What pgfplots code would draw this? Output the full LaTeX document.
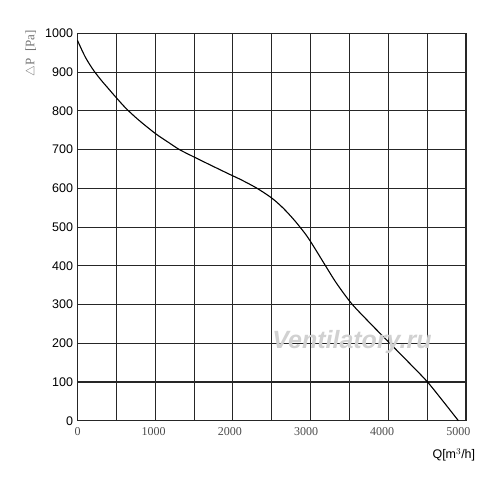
\documentclass[border=0pt]{standalone}
\usepackage{pgfplots}
\pgfplotsset{compat=1.18}
\usepackage{fontspec}
\setmainfont{Liberation Serif}
\setsansfont{Liberation Sans}
\begin{document}
\begin{tikzpicture}[x=1pt,y=1pt]
\path[use as bounding box] (0,0) rectangle (500,490);
\begin{axis}[
  at={(77.5pt,69.3pt)}, anchor=south west,
  scale only axis, width=388.5pt, height=387.2pt,
  xmin=0, xmax=5100, ymin=0, ymax=1000,
  axis line style={line width=1.2pt, black!85},
  xtick={0,1000,2000,3000,4000,5000},
  xticklabels={0,1000,2000,3000,4000,5000},
  ytick={0,100,...,1000},
  ymajorgrids,
  extra x ticks={510,1020,1530,2040,2550,3060,3570,4080,4590},
  extra x tick labels={},
  extra x tick style={grid=major, major tick length=0pt},
  major tick length=0pt,
  grid style={line width=1.1pt, black!85},
  /pgf/number format/assume math mode=true,
  /pgf/number format/1000 sep={},
  xticklabel style={font=\fontsize{12}{12}\selectfont, text=black!70, yshift=-3pt},
  yticklabel style={font=\sffamily\fontsize{12.5}{12.5}\selectfont, xshift=-1pt},
  clip=false,
]
\addplot[black, line width=1.1pt, smooth, tension=0.5] coordinates {
(0,982) (100,940) (200,908) (300,882) (400,859) (510,834) (640,806)
(800,777) (1020,742) (1200,718) (1340,700) (1530,681) (1800,655)
(2000,636) (2150,622) (2350,601) (2550,575) (2700,549) (2850,517)
(3000,480) (3100,450) (3250,402) (3400,355) (3600,302) (3850,250)
(4100,200) (4350,150) (4590,101) (4800,50) (5000,0)
};
\end{axis}
\node[rotate=90, text=black!55, font=\fontsize{13}{13}\selectfont] at (31,437) {$\triangle$P\ \ [Pa]};
\node[font=\sffamily\fontsize{12.5}{12.5}\selectfont, anchor=west] at (429,35) {Q[m$^3$/h]};
\node[text=black!18, font=\sffamily\bfseries\itshape\fontsize{25}{25}\selectfont] at (352,148) {Ventilatory.ru};
\end{tikzpicture}
\end{document}
